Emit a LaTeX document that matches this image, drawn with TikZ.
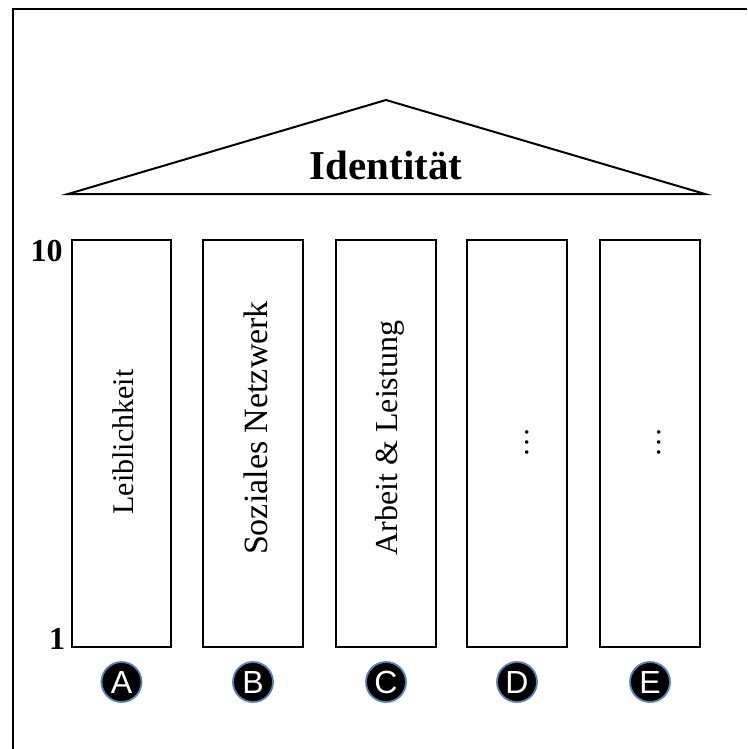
\documentclass[tikz,border=0pt]{standalone}
\usepackage{fontspec}
\setmainfont{Liberation Serif}
\newfontfamily\badgefont{Liberation Sans}
\definecolor{badgerim}{RGB}{84,130,190}
\tikzset{
  outline/.style={draw=black, line width=2pt},
  pillar/.style={outline, rectangle, fill=white, inner sep=0pt, minimum width=99pt, minimum height=407pt},
  pillartext/.style={rotate=90, inner sep=0pt, font=\fontsize{30}{30}\selectfont},
  scalelabel/.style={inner sep=0pt, font=\bfseries\fontsize{32}{32}\selectfont},
  badge/.style={circle, fill=black, draw=badgerim, line width=1.8pt, minimum size=40pt, inner sep=0pt,
    text=white, font=\badgefont\fontsize{32}{32}\selectfont},
}
\begin{document}
\begin{tikzpicture}[x=1pt,y=-1pt]
\useasboundingbox (0,0) rectangle (747,749);
% frame (top and left edges visible)
\draw[outline] (12.5,749) -- (12.5,9.5) -- (747,9.5);
% roof
\coordinate (roofL) at (68,194);
\coordinate (roofT) at (386,100);
\coordinate (roofR) at (705,194);
\draw[outline, line join=miter] (roofL) -- (roofT) -- (roofR) -- cycle;
\node[inner sep=0pt, font=\bfseries\fontsize{41}{41}\selectfont] (title) at (386,165) {Identität};
% pillars
\node[pillar] (pA) at (121.5,443.5) {};
\node[pillar, minimum width=100pt] (pB) at (253,443.5) {};
\node[pillar, minimum width=100pt] (pC) at (386,443.5) {};
\node[pillar, minimum width=100pt] (pD) at (517,443.5) {};
\node[pillar, minimum width=100pt] (pE) at (650,443.5) {};
% pillar texts
\node[pillartext] (tA) at (123,442) {Leiblichkeit};
\node[pillartext, font=\fontsize{34}{34}\selectfont] (tB) at (255.5,428) {Soziales Netzwerk};
\node[pillartext, font=\fontsize{32}{32}\selectfont] (tC) at (390,438) {Arbeit \& Leistung};
\node[pillartext] (tD) at (527,442) {…};
\node[pillartext] (tE) at (659,442) {…};
% scale labels
\node[scalelabel] (ten) at (46.5,251) {10};
\node[scalelabel] (one) at (57,639) {1};
% badges
\node[badge] (bA) at (121.5,682) {A};
\node[badge] (bB) at (253,682) {B};
\node[badge] (bC) at (386,682) {C};
\node[badge] (bD) at (517,682) {D};
\node[badge] (bE) at (650,682) {E};
\end{tikzpicture}
\end{document}
